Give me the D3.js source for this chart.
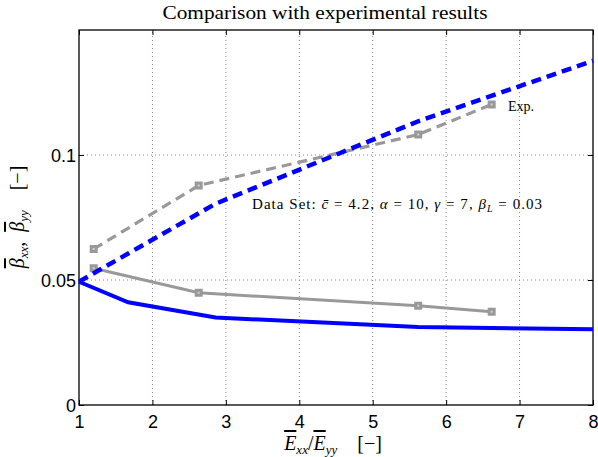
<!DOCTYPE html>
<html><head><meta charset="utf-8">
<script src="https://cdn.jsdelivr.net/npm/d3@7"></script>
<style>body{margin:0;background:#fff}svg{display:block}</style>
</head><body>
<svg id="c" width="598" height="457"></svg>
<script>
const modelX = [1, 1.67, 2.86, 5.62, 8];
const modelBetaXX = [0.0493, 0.0411, 0.0350, 0.0312, 0.0303];
const modelBetaYY = [0.0493, 0.0606, 0.0805, 0.1135, 0.1377];
const expX = [1.2, 2.63, 5.62, 6.62];
const expBetaXX = [0.0547, 0.0449, 0.0397, 0.0373];
const expBetaYY = [0.0624, 0.0878, 0.1082, 0.1202];
const xTicks = [1, 2, 3, 4, 5, 6, 7, 8];
const yTicks = [0, 0.05, 0.1];
const yTickLabels = ["0", "0.05", "0.1"];

const W = 598, H = 457;
const m = {l: 79, r: 5, t: 30, b: 52};
const svg = d3.select("#c");
const x = d3.scaleLinear().domain([1, 8]).range([m.l, W - m.r]);
const y = d3.scaleLinear().domain([0, 0.15]).range([H - m.b, m.t]);

// grid
const g = svg.append("g");
g.selectAll("line.gx").data(xTicks.slice(1, -1)).enter().append("line")
  .attr("x1", d => x(d)).attr("x2", d => x(d)).attr("y1", y(0)).attr("y2", y(0.15))
  .attr("stroke", "#888").attr("stroke-width", 1).attr("stroke-dasharray", "1,3");
g.selectAll("line.gy").data(yTicks.slice(1)).enter().append("line")
  .attr("y1", d => y(d)).attr("y2", d => y(d)).attr("x1", x(1)).attr("x2", x(8))
  .attr("stroke", "#888").attr("stroke-width", 1).attr("stroke-dasharray", "1,3");

// axes with inward ticks
const axB = d3.axisBottom(x).tickValues(xTicks).tickSize(-5).tickFormat(d3.format("d"));
const axT = d3.axisTop(x).tickValues(xTicks).tickSize(-5).tickFormat("");
const axL = d3.axisLeft(y).tickValues(yTicks).tickSize(-5).tickFormat((d, i) => yTickLabels[i]);
const axR = d3.axisRight(y).tickValues(yTicks).tickSize(-5).tickFormat("");
function style(sel) {
  sel.select(".domain").remove();
  sel.selectAll("line").attr("stroke", "#000");
  sel.selectAll("text").attr("font-family", "Liberation Sans, Arial, sans-serif").attr("font-size", 18).attr("fill", "#000");
}
svg.append("g").attr("transform", `translate(0,${y(0)})`).call(axB).call(style)
  .selectAll("text").attr("y", 10).attr("dy", "0.71em");
svg.append("g").attr("transform", `translate(0,${y(0.15)})`).call(axT).call(style);
svg.append("g").attr("transform", `translate(${x(1)},0)`).call(axL).call(style)
  .selectAll("text").attr("x", -3).attr("dy", "0.35em");
svg.append("g").attr("transform", `translate(${x(8)},0)`).call(axR).call(style);

// frame
svg.append("rect").attr("x", x(1)).attr("y", y(0.15)).attr("width", x(8) - x(1)).attr("height", y(0) - y(0.15))
  .attr("fill", "none").attr("stroke", "#000").attr("stroke-width", 1.3);

const line = d3.line().x(d => x(d[0])).y(d => y(d[1]));
const grey = "#999999", blue = "#0000ff";

const expXX = expX.map((v, i) => [v, expBetaXX[i]]);
const expYY = expX.map((v, i) => [v, expBetaYY[i]]);
const modXX = modelX.map((v, i) => [v, modelBetaXX[i]]);
const modYY = modelX.map((v, i) => [v, modelBetaYY[i]]);

svg.append("path").datum(expXX).attr("d", line).attr("fill", "none").attr("stroke", grey).attr("stroke-width", 3);
svg.append("path").datum(expYY).attr("d", line).attr("fill", "none").attr("stroke", grey).attr("stroke-width", 3.2)
  .attr("stroke-dasharray", "10,6");
[expXX, expYY].forEach(data => {
  svg.selectAll(null).data(data).enter().append("rect")
    .attr("x", d => x(d[0]) - 4).attr("y", d => y(d[1]) - 4).attr("width", 8).attr("height", 8).attr("fill", grey);
  svg.selectAll(null).data(data).enter().append("rect")
    .attr("x", d => x(d[0]) - 1).attr("y", d => y(d[1]) - 1).attr("width", 2).attr("height", 2).attr("fill", "#d0d0d0");
});

svg.append("path").datum(modXX).attr("d", line).attr("fill", "none").attr("stroke", blue).attr("stroke-width", 4);
svg.append("path").datum(modYY).attr("d", line).attr("fill", "none").attr("stroke", blue).attr("stroke-width", 4.5)
  .attr("stroke-dasharray", "10,6");

const serif = "Liberation Serif, Times New Roman, serif";

// title
svg.append("text").attr("x", 325).attr("y", 19).attr("text-anchor", "middle")
  .attr("font-family", serif).attr("font-size", 18).attr("textLength", 325).attr("lengthAdjust", "spacingAndGlyphs")
  .text("Comparison with experimental results");

// Exp. label
svg.append("text").attr("x", 508).attr("y", 111).attr("font-family", serif).attr("font-size", 14).text("Exp.");

// Data set annotation
const ann = svg.append("text").attr("x", 252).attr("y", 209).attr("font-family", serif).attr("font-size", 15)
  .attr("textLength", 290).attr("lengthAdjust", "spacing");
ann.append("tspan").text("Data Set: ");
ann.append("tspan").attr("font-style", "italic").text("c̄");
ann.append("tspan").text(" = 4.2,  ");
ann.append("tspan").attr("font-style", "italic").text("α");
ann.append("tspan").text(" = 10,  ");
ann.append("tspan").attr("font-style", "italic").text("γ");
ann.append("tspan").text(" = 7, ");
ann.append("tspan").attr("font-style", "italic").text("β");
ann.append("tspan").attr("font-style", "italic").attr("font-size", 10).attr("dy", 3).text("L");
ann.append("tspan").attr("dy", -3).text(" = 0.03");

// x label
const xl = svg.append("text").attr("x", 333).attr("y", 450).attr("text-anchor", "middle")
  .attr("font-family", serif).attr("font-size", 20);
xl.append("tspan").attr("font-style", "italic").attr("text-decoration", "overline").text("E");
xl.append("tspan").attr("font-style", "italic").attr("font-size", 13).attr("dy", 4).text("xx");
xl.append("tspan").attr("dy", -4).text("/");
xl.append("tspan").attr("font-style", "italic").attr("text-decoration", "overline").text("E");
xl.append("tspan").attr("font-style", "italic").attr("font-size", 13).attr("dy", 4).text("yy");
xl.append("tspan").attr("dy", -4).text("\u2003[−]");

// y label
const yl = svg.append("text").attr("transform", "translate(24,217) rotate(-90)").attr("text-anchor", "middle")
  .attr("font-family", serif).attr("font-size", 20);
yl.append("tspan").attr("font-style", "italic").attr("text-decoration", "overline").text("β");
yl.append("tspan").attr("font-style", "italic").attr("font-size", 13).attr("dy", 4).text("xx");
yl.append("tspan").attr("dy", -4).text(",\u2002");
yl.append("tspan").attr("font-style", "italic").attr("text-decoration", "overline").text("β");
yl.append("tspan").attr("font-style", "italic").attr("font-size", 13).attr("dy", 4).text("yy");
yl.append("tspan").attr("dy", -4).text("\u2003[−]");
</script>
</body></html>
